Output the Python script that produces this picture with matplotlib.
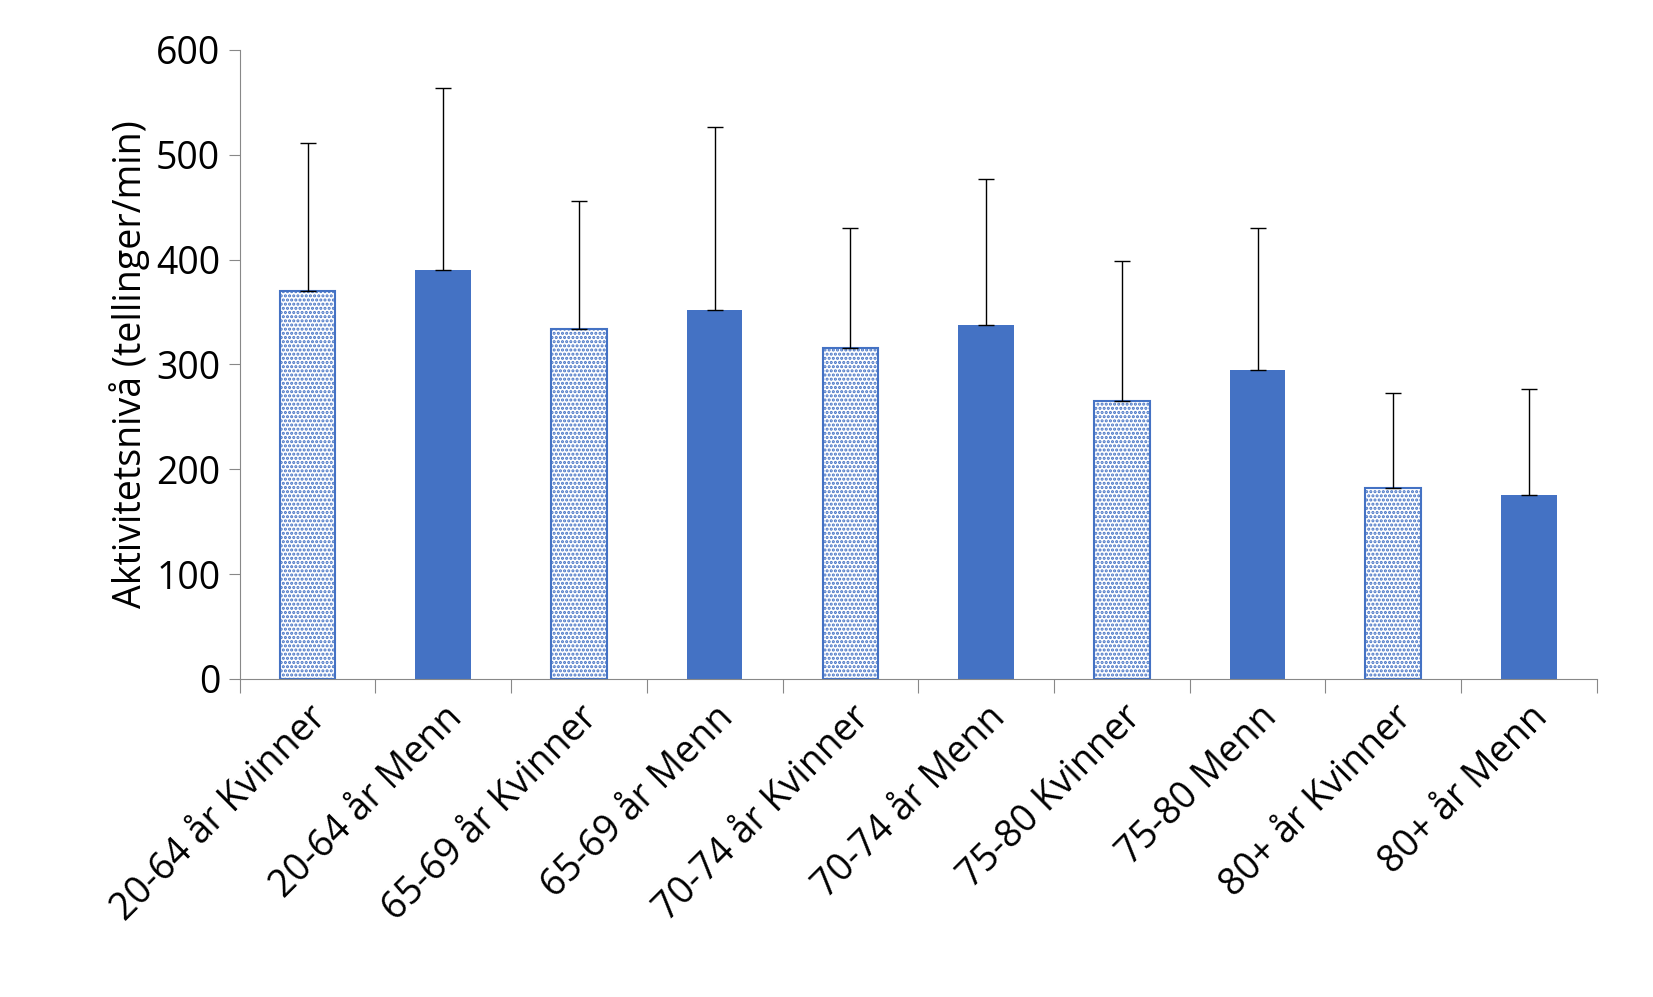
import matplotlib
matplotlib.use("Agg")
import matplotlib.pyplot as plt

categories = ["20-64 år Kvinner", "20-64 år Menn", "65-69 år Kvinner", "65-69 år Menn",
              "70-74 år Kvinner", "70-74 år Menn", "75-80 Kvinner", "75-80 Menn",
              "80+ år Kvinner", "80+ år Menn"]
values = [370, 390, 334, 352, 316, 338, 265, 295, 182, 175]
err_top = [511, 564, 456, 526, 430, 477, 399, 430, 273, 277]

plt.rcParams['font.family'] = ['Open Sans', 'DejaVu Sans']
plt.rcParams['hatch.linewidth'] = 1.5
blue = "#4472C4"
fig = plt.figure(figsize=(16.53, 9.97), dpi=100)
ax = fig.add_axes([0.145, 0.319, 0.821, 0.631])
x = list(range(len(categories)))
for i, v in enumerate(values):
    if i % 2 == 0:
        ax.bar(i, v, width=0.41, facecolor="white", edgecolor=blue, hatch="....", linewidth=1.5, zorder=2)
    else:
        ax.bar(i, v, width=0.41, color=blue, zorder=2)
    ax.errorbar(i, v, yerr=[[0], [err_top[i] - v]], color="black", capsize=6, elinewidth=1, capthick=1, zorder=3)
ax.set_xlim(-0.5, len(categories) - 0.5)
ax.set_ylim(0, 600)
ax.set_yticks(range(0, 601, 100))
ax.set_xticks([i + 0.5 for i in range(-1, len(categories))], minor=False)
ax.set_xticklabels([])
ax.tick_params(axis='x', length=10, color="#888888")
ax.set_xticks(x, minor=True)
ax.set_xticklabels(categories, minor=True, rotation=45, ha="right", rotation_mode="anchor", fontsize=27)
ax.tick_params(axis='x', which='minor', length=0, pad=14)
ax.tick_params(axis='y', labelsize=27, length=8, color="#888888", pad=6)
for s in ["top", "right"]:
    ax.spines[s].set_visible(False)
ax.spines["left"].set_color("#888888")
ax.spines["bottom"].set_color("#888888")
ax.set_ylabel("Aktivitetsnivå (tellinger/min)", fontsize=27)
fig.savefig("out.png")
